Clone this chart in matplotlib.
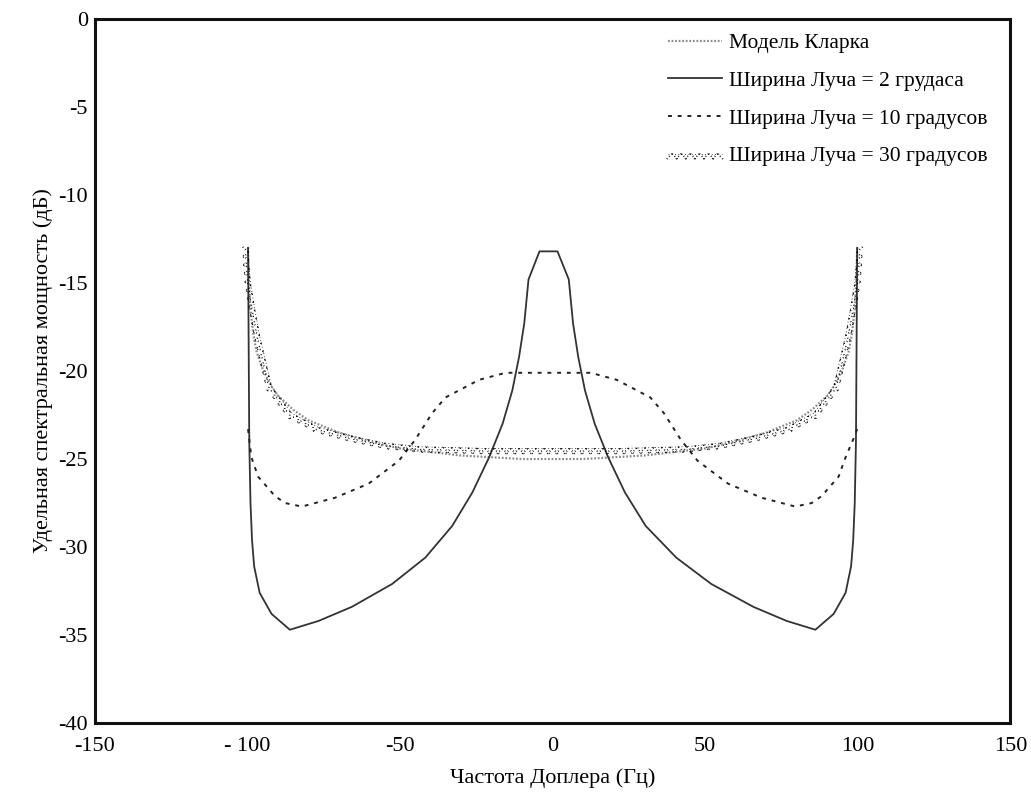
import matplotlib.pyplot as plt
import matplotlib.patheffects as pe

# значения (дБ)
clarke_f = [-99.8, -99.5, -99, -98, -97, -95, -92, -90, -85, -80, -70, -60, -50, -40, -30, -20, -10, 0,
            10, 20, 30, 40, 50, 60, 70, 80, 85, 90, 92, 95, 97, 98, 99, 99.5, 99.8]
clarke_s = [-13.0, -15.0, -16.5, -18.0, -18.9, -19.9, -20.9, -21.4, -22.2, -22.8, -23.5, -24.0, -24.4, -24.6, -24.8, -24.9, -25.0, -25.0,
            -25.0, -24.9, -24.8, -24.6, -24.4, -24.0, -23.5, -22.8, -22.2, -21.4, -20.9, -19.9, -18.9, -18.0, -16.5, -15.0, -13.0]

bw2_f = [-99.8, -99.4, -99.0, -98.5, -97.8, -96.0, -92.1, -86.1, -76.7, -65.8, -52.6, -41.7, -32.9, -26.3, -20.8,
         -16.4, -13.2, -11.0, -9.3, -7.9, -4.3, 1.6, 5.3, 6.7, 8.4, 10.6, 13.8, 18.2, 23.7, 30.5, 40.5, 52.0,
         65.8, 76.7, 86.1, 92.1, 96.0, 97.8, 98.5, 99.0, 99.4, 99.8]
bw2_s = [-13.0, -24.0, -27.5, -29.6, -31.1, -32.6, -33.8, -34.7, -34.2, -33.4, -32.1, -30.6, -28.8, -26.9, -24.9,
         -23.0, -21.1, -19.2, -17.3, -14.8, -13.2, -13.2, -14.8, -17.3, -19.2, -21.1, -23.0, -24.9, -26.9, -28.8, -30.6, -32.1,
         -33.4, -34.2, -34.7, -33.8, -32.6, -31.1, -29.6, -27.5, -24.0, -13.0]

bw10_f = [-99.8, -98.7, -96.5, -91.0, -87.7, -82.2, -71.3, -60.3, -50.4, -45.0, -39.5, -35.1, -24.1, -15.4,
          12.5, 21.0, 32.0, 36.5, 42.0, 47.5, 57.5, 68.5, 79.5, 84.9, 88.2, 93.7, 96.0, 98.7, 99.8]
bw10_s = [-23.3, -24.9, -26.0, -27.1, -27.5, -27.7, -27.2, -26.4, -25.1, -23.9, -22.4, -21.5, -20.5, -20.1,
          -20.1, -20.5, -21.5, -22.4, -23.9, -25.1, -26.4, -27.2, -27.7, -27.5, -27.1, -26.0, -24.9, -23.8, -23.3]

bw30_f = [-99.8, -99.5, -99, -97.7, -96, -92.1, -85.5, -76.7, -65.8, -54.8, -43.8, -21.9, 0,
          21.9, 43.8, 54.8, 65.8, 76.7, 85.5, 92.1, 96, 97.7, 99, 99.5, 99.8]
bw30_s = [-13.0, -14.0, -15.0, -16.4, -18.0, -20.9, -22.4, -23.2, -23.7, -24.1, -24.3, -24.4, -24.4,
          -24.4, -24.3, -24.1, -23.7, -23.2, -22.4, -20.9, -18.0, -16.4, -15.0, -14.0, -13.0]

labels = ['Модель Кларка', 'Ширина Луча = 2 грудаса',
          'Ширина Луча = 10 градусов', 'Ширина Луча = 30 градусов']
xticks = [-150, -100, -50, 0, 50, 100, 150]
xtick_labels = ['-150', '- 100', '-50', '0', '50', '100', '150']
yticks = [-40, -35, -30, -25, -20, -15, -10, -5, 0]

plt.rcParams['font.family'] = ['Liberation Serif', 'DejaVu Serif']
plt.rcParams['axes.unicode_minus'] = False

fig = plt.figure(figsize=(10.31, 7.94), dpi=100)
ax = fig.add_axes([0.092, 0.0894, 0.888, 0.8866])

ax.plot(clarke_f, clarke_s, color='#8a8a8a', lw=1.6, ls=(0, (0.8, 0.8)), label=labels[0])
ax.plot(bw2_f, bw2_s, color='#333333', lw=1.3, label=labels[1])
ax.plot(bw10_f, bw10_s, color='#222222', lw=1.4, ls=(0, (2, 3)), label=labels[2])
# "зубчатая" линия 30 градусов: галочки по обе стороны от точки
ax.plot(bw30_f, bw30_s, color='#111111', lw=0.6, ls=(0, (1, 3)), label=labels[3],
        path_effects=[pe.withTickedStroke(spacing=6, angle=-45, length=1.1, linewidth=1.2, foreground='#000000'),
                      pe.TickedStroke(spacing=6, angle=-135, length=1.1, linewidth=1.2, foreground='#000000')])

ax.set_xlim(-150, 150)
ax.set_ylim(-40, 0)
ax.set_xticks(xticks)
ax.set_xticklabels(xtick_labels)
ax.set_yticks(yticks)
ax.tick_params(length=0, labelsize=16)
ax.tick_params(axis='x', pad=10)
ax.tick_params(axis='y', pad=5)
for s in ax.spines.values():
    s.set_linewidth(2.2)
    s.set_color('#111111')

ax.set_xlabel('Частота Доплера (Гц)', fontsize=16, labelpad=9)
ax.set_ylabel('Удельная спектральная мощность (дБ)', fontsize=16, labelpad=4)

ax.legend(loc='upper left', bbox_to_anchor=(668 / 1031, 1 - 33 / 794),
          bbox_transform=fig.transFigure, frameon=False, fontsize=15.5,
          handlelength=2.5, handletextpad=0.35, labelspacing=0.82, borderpad=0, borderaxespad=0)

fig.savefig('out.png', dpi=100)
